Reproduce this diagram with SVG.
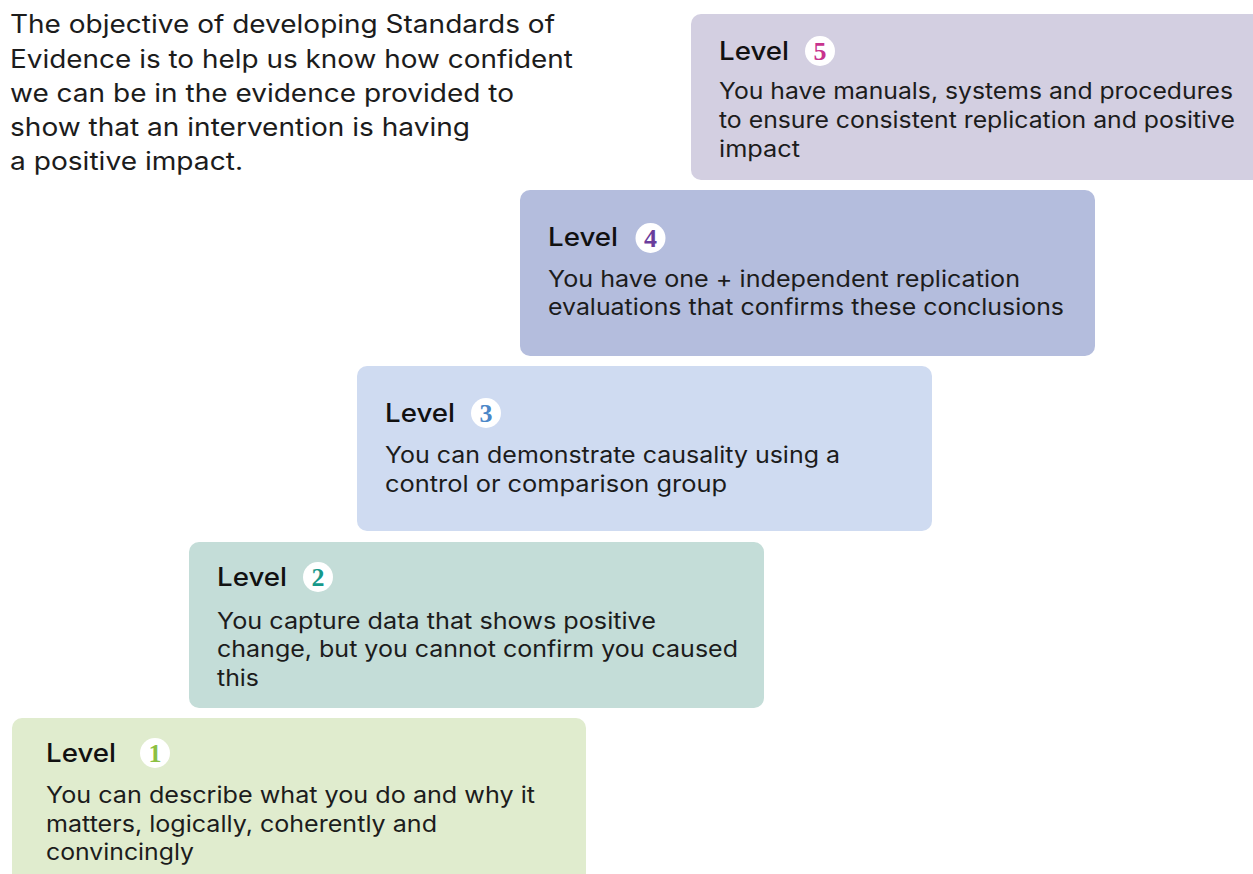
<svg xmlns="http://www.w3.org/2000/svg" width="1253" height="874" viewBox="0 0 1253 874">
<style>
text{font-family:Inter,"Noto Sans","Liberation Sans",sans-serif;fill:#1c1c1c}
.intro{font-size:25px}
.body{font-size:22.5px}
.lvl{font-size:25px;font-weight:500;fill:#111}
.num{font-family:"Liberation Serif","DejaVu Serif",serif;font-size:26px;font-weight:bold;text-anchor:middle}
.badge{fill:#ffffff}
</style>
<rect width="1253" height="874" fill="#ffffff"/>
<g id="intro">
<text class="intro" x="10" y="33" textLength="545" lengthAdjust="spacingAndGlyphs">The objective of developing Standards of</text>
<text class="intro" x="10" y="68" textLength="563" lengthAdjust="spacingAndGlyphs">Evidence is to help us know how confident</text>
<text class="intro" x="10" y="102" textLength="504" lengthAdjust="spacingAndGlyphs">we can be in the evidence provided to</text>
<text class="intro" x="10" y="136" textLength="460" lengthAdjust="spacingAndGlyphs">show that an intervention is having</text>
<text class="intro" x="10" y="170" textLength="233" lengthAdjust="spacingAndGlyphs">a positive impact.</text>
</g>
<g id="level5">
<rect x="691" y="14" width="580" height="166" rx="10" fill="#d3cfe1"/>
<text class="lvl" x="719" y="60" textLength="70" lengthAdjust="spacingAndGlyphs">Level</text>
<circle class="badge" cx="820" cy="51" r="15"/>
<text class="num" x="820" y="60" style="fill:#c8338e">5</text>
<text class="body" x="719" y="99" textLength="514" lengthAdjust="spacingAndGlyphs">You have manuals, systems and procedures</text>
<text class="body" x="719" y="128" textLength="516" lengthAdjust="spacingAndGlyphs">to ensure consistent replication and positive</text>
<text class="body" x="719" y="157" textLength="81" lengthAdjust="spacingAndGlyphs">impact</text>
</g>
<g id="level4">
<rect x="520" y="190" width="575" height="166" rx="10" fill="#b4bddd"/>
<text class="lvl" x="548" y="246" textLength="70" lengthAdjust="spacingAndGlyphs">Level</text>
<circle class="badge" cx="650.5" cy="238" r="15"/>
<text class="num" x="650.5" y="247" style="fill:#6a3d9c">4</text>
<text class="body" x="548" y="287" textLength="472" lengthAdjust="spacingAndGlyphs">You have one + independent replication</text>
<text class="body" x="548" y="315" textLength="516" lengthAdjust="spacingAndGlyphs">evaluations that confirms these conclusions</text>
</g>
<g id="level3">
<rect x="357" y="366" width="575" height="165" rx="10" fill="#cfdbf1"/>
<text class="lvl" x="385" y="422" textLength="70" lengthAdjust="spacingAndGlyphs">Level</text>
<circle class="badge" cx="486" cy="413" r="15"/>
<text class="num" x="486" y="422" style="fill:#4b87c8">3</text>
<text class="body" x="385" y="463" textLength="455" lengthAdjust="spacingAndGlyphs">You can demonstrate causality using a</text>
<text class="body" x="385" y="492" textLength="342" lengthAdjust="spacingAndGlyphs">control or comparison group</text>
</g>
<g id="level2">
<rect x="189" y="542" width="575" height="166" rx="10" fill="#c4ddd8"/>
<text class="lvl" x="217" y="586" textLength="70" lengthAdjust="spacingAndGlyphs">Level</text>
<circle class="badge" cx="318" cy="577" r="15"/>
<text class="num" x="318" y="586" style="fill:#17998a">2</text>
<text class="body" x="217" y="629" textLength="439" lengthAdjust="spacingAndGlyphs">You capture data that shows positive</text>
<text class="body" x="217" y="657" textLength="521" lengthAdjust="spacingAndGlyphs">change, but you cannot confirm you caused</text>
<text class="body" x="217" y="686" textLength="42" lengthAdjust="spacingAndGlyphs">this</text>
</g>
<g id="level1">
<rect x="12" y="718" width="574" height="180" rx="10" fill="#e0ecce"/>
<text class="lvl" x="46" y="762" textLength="70" lengthAdjust="spacingAndGlyphs">Level</text>
<circle class="badge" cx="155" cy="753" r="15"/>
<text class="num" x="155" y="762" style="fill:#8cc043">1</text>
<text class="body" x="46" y="803" textLength="489" lengthAdjust="spacingAndGlyphs">You can describe what you do and why it</text>
<text class="body" x="46" y="832" textLength="391" lengthAdjust="spacingAndGlyphs">matters, logically, coherently and</text>
<text class="body" x="46" y="860" textLength="148" lengthAdjust="spacingAndGlyphs">convincingly</text>
</g>
<g id="connectors"></g>
</svg>
